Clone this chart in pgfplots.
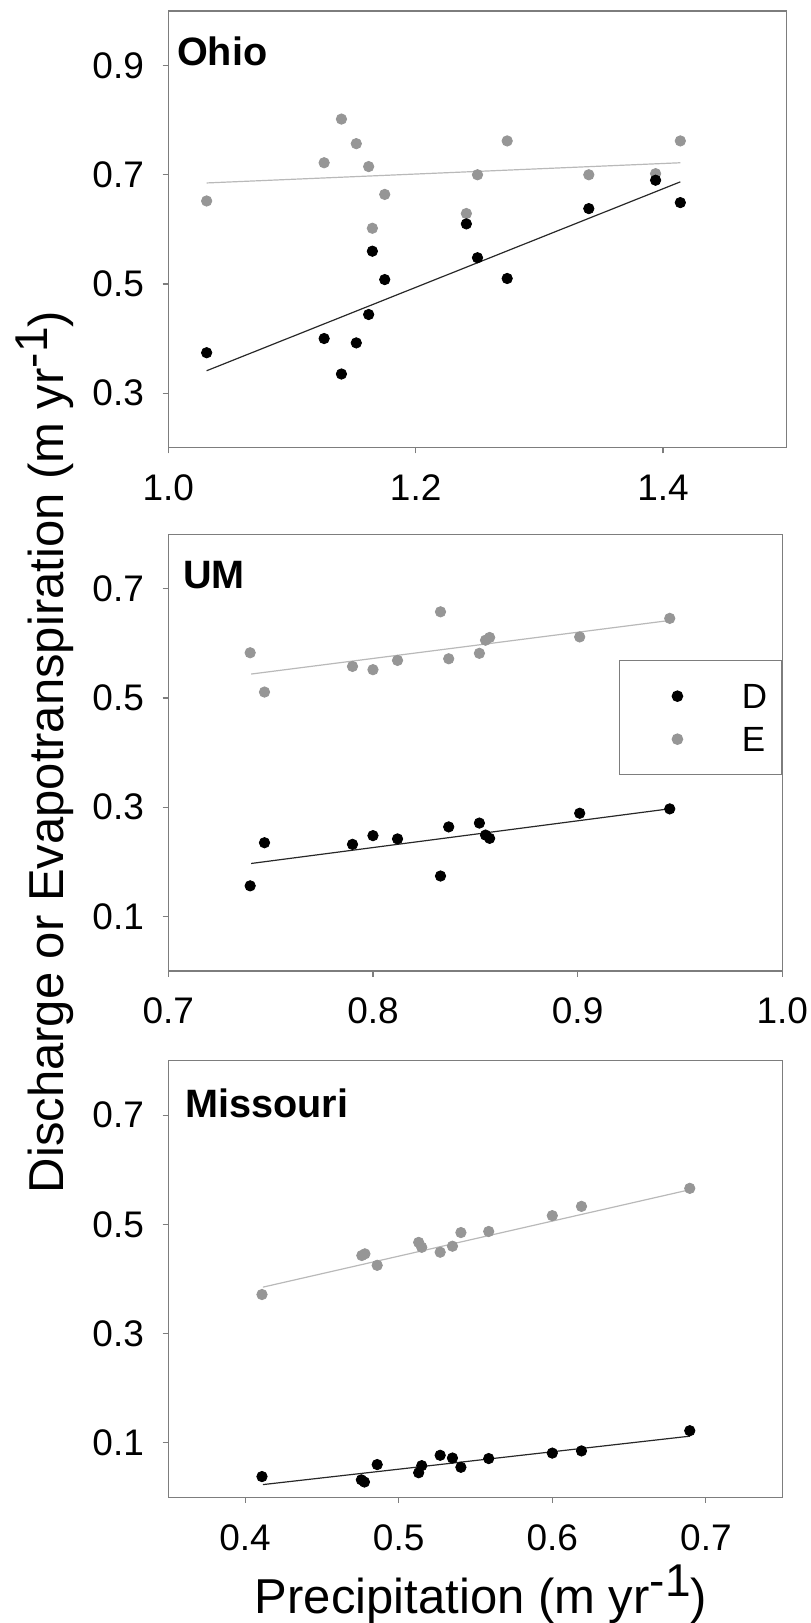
\documentclass[border=0pt]{standalone}
\usepackage{fontspec}
\setmainfont{Liberation Sans}
\usepackage{pgfplots}
\pgfplotsset{compat=1.18}

\definecolor{egray}{RGB}{150,150,150}
\definecolor{eline}{RGB}{185,185,185}
\definecolor{axgray}{RGB}{125,125,125}
\definecolor{dline}{RGB}{40,40,40}

\tikzset{ptitle/.style={anchor=base west, inner sep=0pt, font=\fontsize{19.8}{19.8}\selectfont\bfseries}}

\pgfplotsset{
  panel/.style={
    scale only axis, height=218.35pt, anchor=north west, clip=false,
    axis line style={axgray, line width=0.6pt},
    tick pos=left, tick align=outside, major tick length=2.8pt,
    tick style={axgray, line width=0.6pt},
    tick label style={font=\fontsize{18.5}{18.5}\selectfont, inner sep=0pt},
    xticklabel={\pgfmathprintnumber[fixed,fixed zerofill,precision=1,assume math mode=true]{\tick}},
    yticklabel={\pgfmathprintnumber[fixed,fixed zerofill,precision=1,assume math mode=true]{\tick}},
    xticklabel style={anchor=base, yshift=-23.6pt},
    yticklabel style={anchor=east, xshift=-9.2pt},
  },
  Dpts/.style={only marks, mark=*, mark size=2.6pt, color=black,
    legend image code/.code={\path[draw=none, fill=none] (0pt,-10.75pt) rectangle (53.7pt,10.75pt);
      \draw[##1] plot coordinates {(21.5pt,0pt)};}},
  Epts/.style={only marks, mark=*, mark size=2.6pt, color=egray,
    legend image code/.code={\path[draw=none, fill=none] (0pt,-10.75pt) rectangle (53.7pt,10.75pt);
      \draw[##1] plot coordinates {(21.5pt,0pt)};}},
  Dfit/.style={no marks, dline, line width=0.6pt, forget plot},
  Efit/.style={no marks, eline, line width=0.6pt, forget plot},
}

\begin{document}
\begin{tikzpicture}
\useasboundingbox (0,0) rectangle (405pt,-811.5pt);

% Ohio
\begin{axis}[panel, at={(84.15pt,-5.5pt)}, width=309.2pt,
  xmin=1.0, xmax=1.5, ymin=0.2, ymax=1.0,
  xtick={1.0,1.2,1.4}, ytick={0.3,0.5,0.7,0.9}]
\addplot[Efit] coordinates {(1.031,0.685) (1.414,0.722)};
\addplot[Dfit] coordinates {(1.031,0.341) (1.414,0.687)};
\addplot[Epts] table {
1.031 0.652
1.126 0.722
1.140 0.802
1.152 0.757
1.162 0.715
1.165 0.602
1.175 0.664
1.241 0.629
1.250 0.700
1.274 0.762
1.340 0.700
1.394 0.702
1.414 0.762
};
\addplot[Dpts] table {
1.031 0.374
1.126 0.400
1.140 0.335
1.152 0.392
1.162 0.444
1.165 0.560
1.175 0.508
1.241 0.610
1.250 0.548
1.274 0.510
1.340 0.638
1.394 0.690
1.414 0.649
};
\node[ptitle, xshift=4.2pt, yshift=-27pt] at (rel axis cs:0,1) {Ohio};
\end{axis}

% UM
\begin{axis}[panel, at={(84.15pt,-267.15pt)}, width=307pt,
  xmin=0.7, xmax=1.0, ymin=0, ymax=0.8,
  xtick={0.7,0.8,0.9,1.0}, ytick={0.1,0.3,0.5,0.7},
  legend cell align=left,
  legend style={at={(1,0.712)}, anchor=north east, draw=axgray, line width=0.6pt,
    inner xsep=7.3pt, inner ysep=7pt, row sep=0pt,
    font=\fontsize{17.5}{17.5}\selectfont,
    nodes={inner sep=0pt, text depth=0pt}}]
\addplot[Efit] coordinates {(0.7405,0.544) (0.9446,0.642)};
\addplot[Dfit] coordinates {(0.7405,0.197) (0.9446,0.297)};
\addplot[Dpts] table {
0.740 0.156
0.747 0.235
0.790 0.232
0.800 0.248
0.812 0.242
0.833 0.174
0.837 0.264
0.852 0.271
0.855 0.249
0.857 0.243
0.901 0.289
0.945 0.297
};
\addlegendentry{D}
\addplot[Epts] table {
0.740 0.583
0.747 0.511
0.790 0.558
0.800 0.552
0.812 0.569
0.833 0.658
0.837 0.572
0.852 0.582
0.855 0.606
0.857 0.611
0.901 0.612
0.945 0.646
};
\addlegendentry{E}
\node[ptitle, xshift=7.35pt, yshift=-26.85pt] at (rel axis cs:0,1) {UM};
\end{axis}

% Missouri
\begin{axis}[panel, at={(84.15pt,-530.3pt)}, width=307.2pt,
  xmin=0.35, xmax=0.75, ymin=0, ymax=0.8,
  xtick={0.4,0.5,0.6,0.7}, ytick={0.1,0.3,0.5,0.7}]
\addplot[Efit] coordinates {(0.4116,0.385) (0.6895,0.5635)};
\addplot[Dfit] coordinates {(0.4116,0.0233) (0.6895,0.112)};
\addplot[Epts] table {
0.411 0.3715
0.476 0.443
0.478 0.446
0.486 0.425
0.513 0.467
0.515 0.458
0.527 0.449
0.535 0.460
0.5405 0.485
0.5586 0.487
0.600 0.516
0.619 0.533
0.6895 0.566
};
\addplot[Dpts] table {
0.411 0.038
0.4757 0.032
0.4777 0.028
0.486 0.060
0.513 0.045
0.515 0.058
0.527 0.077
0.535 0.072
0.5405 0.055
0.5586 0.071
0.600 0.081
0.619 0.085
0.6895 0.122
};
\node[ptitle, xshift=8.35pt, yshift=-28.3pt] at (rel axis cs:0,1) {Missouri};
\end{axis}

\node[rotate=90, anchor=base, inner sep=0pt, font=\fontsize{24.5}{24.5}\selectfont]
  at (31.7pt,-376pt) {Discharge or Evapotranspiration (m yr\raisebox{0.33em}{\fontsize{23}{23}\selectfont -1})};
\node[anchor=base, inner sep=0pt, font=\fontsize{24.5}{24.5}\selectfont]
  at (240.5pt,-806.5pt) {Precipitation (m yr\raisebox{0.33em}{\fontsize{23}{23}\selectfont -1})};
\end{tikzpicture}
\end{document}
